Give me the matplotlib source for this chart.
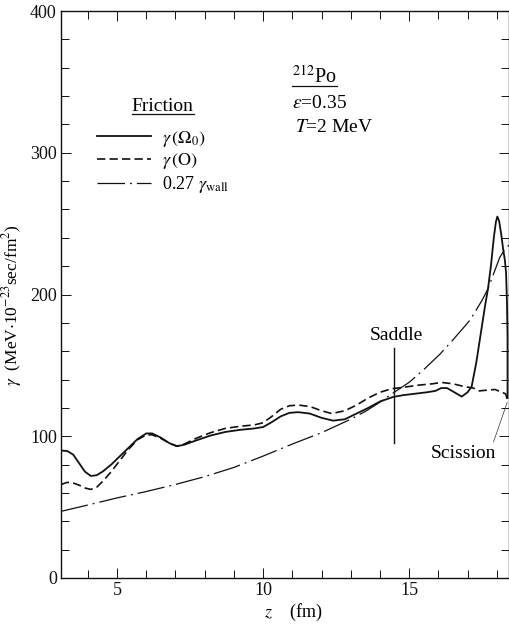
import matplotlib
matplotlib.use("Agg")
import matplotlib.pyplot as plt
from matplotlib.ticker import MultipleLocator

plt.rcParams["font.family"] = ["Liberation Serif", "DejaVu Serif"]
plt.rcParams["mathtext.fontset"] = "stix"

# gamma(Omega_0), solid
z_omega0 = [3.08, 3.3, 3.5, 3.7, 3.9, 4.1, 4.3, 4.5, 4.8, 5.1, 5.4, 5.7, 6.0, 6.2,
            6.5, 6.8, 7.05, 7.3, 7.7, 8.2, 8.7, 9.2, 9.7, 10.0, 10.3, 10.6, 10.9,
            11.2, 11.6, 12.0, 12.4, 12.8, 13.2, 13.6, 14.0, 14.45, 14.8, 15.2,
            15.6, 15.9, 16.1, 16.3, 16.55, 16.8, 17.0, 17.14, 17.3, 17.45, 17.6,
            17.7, 17.8, 17.9, 17.97, 18.02, 18.08, 18.15, 18.22, 18.28, 18.32,
            18.35, 18.37, 18.37, 18.37]
g_omega0 = [90, 89.5, 87, 81, 75, 72, 72.5, 75, 80, 86, 92, 98, 102, 102,
            99, 95, 93, 94, 97, 100.5, 103, 104.5, 105.5, 106.5, 110, 114, 116.5,
            117, 116, 113, 111, 112, 116, 120, 124.5, 127.7, 129, 130,
            131, 132, 134, 134, 131, 128, 131, 135, 152, 172, 192,
            204, 220, 240, 251, 255, 252, 243, 232, 224, 215,
            195, 170, 145, 127]

# gamma(O), dashed
z_o = [3.08, 3.3, 3.5, 3.7, 3.9, 4.1, 4.3, 4.5, 4.8, 5.1, 5.4, 5.7, 6.0, 6.2,
       6.5, 6.8, 7.05, 7.3, 7.7, 8.2, 8.7, 9.2, 9.7, 10.0, 10.3, 10.6, 10.9,
       11.2, 11.6, 12.0, 12.35, 12.8, 13.2, 13.6, 14.0, 14.4, 14.8, 15.3,
       15.8, 16.1, 16.5, 16.9, 17.2, 17.4, 17.66, 17.94, 18.17, 18.3, 18.38]
g_o = [66, 67.5, 67, 65.5, 63.5, 62.5, 64, 68, 75, 83, 91, 97.5, 101, 101,
       98.5, 95, 93, 94.5, 98.5, 102.5, 105.5, 107, 108, 109.5, 114, 119, 121.5,
       122, 121, 118, 116, 118, 122, 127, 131, 133.5, 134.5, 136,
       137, 138, 137, 135, 134, 132, 132.5, 133, 131, 130, 125]

# 0.27 gamma_wall, dash-dot
z_wall = [3.08, 4, 5, 6, 7, 8, 9, 10, 11, 12, 13, 13.5, 14, 14.45, 15, 15.5,
          16.06, 16.5, 17.09, 17.5, 17.7, 17.9, 18.1, 18.25, 18.42]
g_wall = [47, 51.5, 56.5, 61, 66, 71.5, 78, 86, 94.5, 102.5, 112, 117.5, 124,
          130.5, 138, 147, 158, 168, 182, 196, 204, 215, 226, 231, 235]

saddle_z = 14.48
scission_z = 18.36
scission_g = 124

fig = plt.figure(figsize=(5.1, 6.24), dpi=100)
ax = fig.add_axes([61 / 510, 46 / 624, 448 / 510, 567 / 624])

ax.plot(z_omega0, g_omega0, color="#111111", lw=1.3, label=r"$\gamma\,(\Omega_0)$")
ax.plot(z_o, g_o, color="#111111", lw=1.2, dashes=(5, 2.5), label=r"$\gamma\,(\mathrm{O})$")
ax.plot(z_wall, g_wall, color="#111111", lw=0.9, dashes=(22, 4, 1.5, 4),
        label=r"0.27 $\gamma_{\mathrm{wall}}$")

ax.set_xlim(3.08, 18.42)
ax.set_ylim(0, 400)
ax.xaxis.set_major_locator(MultipleLocator(5))
ax.xaxis.set_minor_locator(MultipleLocator(1))
ax.yaxis.set_major_locator(MultipleLocator(100))
ax.yaxis.set_minor_locator(MultipleLocator(20))
ax.tick_params(which="both", direction="in", top=True, right=True, width=0.7,
               labelsize=13, colors="#111111")
ax.tick_params(which="major", length=7, pad=3)
ax.tick_params(which="minor", length=6)
for s in ax.spines.values():
    s.set_linewidth(1.0)
    s.set_color("#111111")

ax.set_xlabel(r"$z$    (fm)", fontsize=13)
ax.xaxis.set_label_coords(0.518, -0.042)
fig.text(12 / 510, 1 - 305 / 624, r"$\gamma$  (MeV$\cdot$10$^{-23}$sec/fm$^{2}$)",
         rotation=90, ha="center", va="center", fontsize=12.5)

leg = ax.legend(loc="upper left", bbox_to_anchor=(0.08, 0.847), frameon=False,
                title="Friction", title_fontsize=14, fontsize=13,
                handlelength=3.0, handletextpad=0.6, labelspacing=0.15,
                borderpad=0, borderaxespad=0)
leg._legend_box.sep = 10

# saddle marker and label
ax.plot([saddle_z, saddle_z], [95, 162], color="#111111", lw=1.0)
ax.text(14.58, 171, "Saddle", ha="center", va="center", fontsize=14)

# scission label
ax.annotate("Scission", xy=(scission_z, scission_g), xytext=(16.85, 88),
            ha="center", va="center", fontsize=14,
            arrowprops=dict(arrowstyle="-", lw=0.5, color="#333333",
                            shrinkA=0, shrinkB=0, relpos=(0.95, 1.0)))

po = ax.text(10.99, 354, r"$^{212}$Po", ha="left", va="center", fontsize=14.5)
ax.text(10.99, 335, r"$\epsilon$=0.35", ha="left", va="center", fontsize=14)
ax.text(11.1, 318, r"$T$=2 MeV", ha="left", va="center", fontsize=14)

# underline "Friction" and "212Po"
fig.canvas.draw()
r = fig.canvas.get_renderer()
inv = ax.transData.inverted()
for t in (leg.get_title(), po):
    bb = t.get_window_extent(r)
    (x0, y0), (x1, _) = inv.transform([(bb.x0, bb.y0 + 1), (bb.x1, bb.y0 + 1)])
    ax.plot([x0, x1], [y0, y0], color="#111111", lw=0.9)

fig.savefig("out.png", dpi=100)
